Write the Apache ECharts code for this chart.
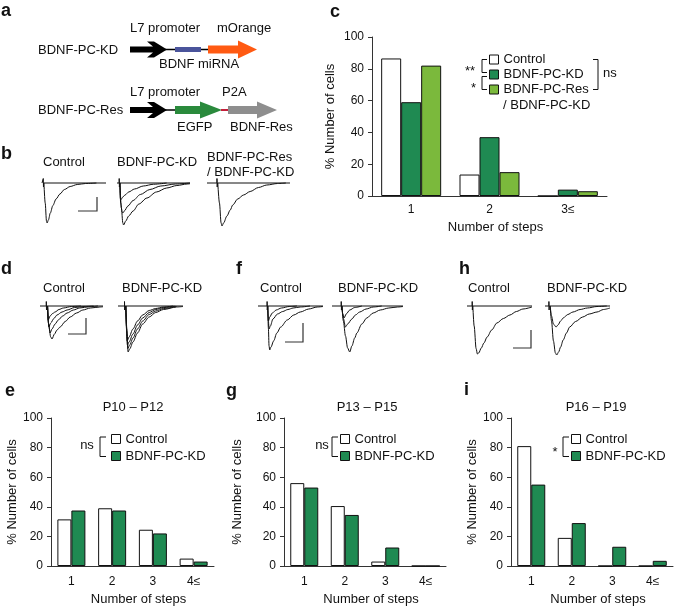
<!DOCTYPE html>
<html><head><meta charset="utf-8">
<script src="https://cdn.jsdelivr.net/npm/echarts@6/dist/echarts.min.js"></script>
<style>html,body{margin:0;padding:0;background:#fff}#main{width:675px;height:608px}</style>
</head><body><div id="main"></div>
<script>
// ---------- DATA ----------
const yTicks = [0, 20, 40, 60, 80, 100];
// panel c
const cCategories = ['1', '2', '3≤'];
const cControl = [86.5, 13.5, 0];
const cKD = [59, 37, 4];
const cRes = [82, 15, 3];
// panels e, g, i
const stepCategories = ['1', '2', '3', '4≤'];
const eControl = [31.5, 39, 24.5, 5];
const eKD = [37.5, 37.5, 22, 3];
const gControl = [56, 40.5, 3, 0];
const gKD = [53, 34.5, 12.5, 0];
const iControl = [81, 19, 0, 0];
const iKD = [55, 29, 13, 3.5];

// traces (time 0-100, current in arbitrary units, 0 = baseline)
const stimB_Control = [[0,0],[2,0],[2,9],[2.3,-8],[2.6,0],[100,0]];
const tracesB_Control = [
  [[3,0],[5,-40],[7,-76],[8,-80],[10,-74],[13,-60],[17,-45],[22,-32],[28,-22],[35,-13],[44,-7],[55,-3],[68,-1],[85,0]]
];
const stimB_KD = [[0,0],[3,0],[3,9],[3.3,-8],[3.6,0],[100,0]];
const tracesB_KD = [
  [[4,0],[4.5,-30],[5,-34],[8,-28],[11,-24],[16,-18],[24,-12],[36,-6],[50,-2.5],[68,0]],
  [[4,0],[5,-40],[7,-58],[8,-60],[10,-56],[15,-46],[22,-35],[32,-23],[45,-13],[60,-6],[80,-2],[100,0]],
  [[4,0],[6,-50],[8,-80],[9,-84],[12,-76],[16,-66],[22,-56],[30,-42],[41,-30],[54,-18],[68,-10],[82,-5],[96,-2],[100,-1.5]]
];
const stimB_Res = [[0,0],[12,0],[12,9],[12.3,-8],[12.6,0],[100,0]];
const tracesB_Res = [
  [[13,0],[15,-40],[17,-80],[18,-86],[20,-80],[24,-66],[28,-54],[31,-44],[37,-32],[44,-24],[52,-17],[62,-9],[72,-4],[85,-1],[95,0]]
];
const stimD_Control = [[0,0],[10,0],[10,9],[10.3,-8],[10.6,0],[100,0]];
const tracesD_Control = [
  [[12,0],[12.5,-20],[13,-28],[16,-20],[20,-15],[24,-12],[30,-7],[37,-4],[50,-1],[65,0]],
  [[12,0],[13,-30],[14,-42],[17,-34],[22,-25],[27,-18],[35,-12],[43,-8],[55,-3],[70,-1],[85,0]],
  [[12,0],[13.5,-35],[16,-54],[19,-46],[24,-36],[29,-28],[36,-20],[43,-14],[53,-8],[63,-4],[78,-1.5],[92,0]],
  [[12,0],[14,-40],[17,-62],[19,-66],[23,-56],[27,-48],[32,-42],[40,-31],[48,-22],[58,-14],[68,-8],[80,-4],[95,-2],[100,-1.5]]
];
const stimD_KD = [[0,0],[10,0],[10,9],[10.3,-8],[10.6,0],[100,0]];
const tracesD_KD = [
  [[12,0],[13,-40],[14,-70],[17,-62],[23,-46],[30,-30],[38,-18],[48,-9],[58,-5],[70,-2],[85,0]],
  [[12,0],[13,-45],[14.5,-78],[17,-72],[23,-56],[30,-38],[38,-24],[48,-13],[58,-7],[70,-3],[88,-0.5]],
  [[12,0],[13.5,-50],[15,-85],[18,-78],[23,-64],[30,-46],[38,-30],[48,-17],[58,-10],[70,-5],[90,-1]],
  [[12,0],[14,-55],[15.5,-92],[18,-86],[23,-72],[30,-54],[38,-36],[48,-22],[58,-13],[70,-7],[90,-2],[100,-1]]
];
const stimF_Control = [[0,0],[14,0],[14,9],[14.3,-8],[14.6,0],[100,0]];
const tracesF_Control = [
  [[15,0],[15.5,-20],[16,-30],[18,-22],[22,-14],[28,-8],[36,-4],[48,-1],[60,0]],
  [[15,0],[16,-30],[17,-46],[19,-40],[23,-26],[30,-16],[38,-11],[46,-7],[54,-4],[65,-2],[80,0]],
  [[15,0],[16,-45],[17,-80],[18,-88],[20,-82],[24,-70],[29,-54],[35,-42],[45,-28],[55,-18],[65,-12],[78,-6],[91,-2],[100,-1]]
];
const stimF_KD = [[0,0],[13,0],[13,9],[13.3,-8],[13.6,0],[100,0]];
const tracesF_KD = [
  [[14,0],[15,-15],[17,-24],[20,-16],[25,-8],[32,-3],[42,0]],
  [[14,0],[16,-25],[19,-42],[22,-36],[28,-26],[33,-18],[39,-12],[48,-6],[58,-2],[70,0]],
  [[14,0],[16,-30],[19,-60],[22,-84],[25,-92],[28,-80],[32,-64],[35,-54],[42,-36],[49,-24],[58,-14],[68,-8],[80,-4],[92,-2],[100,-1]]
];
const stimH_Control = [[0,0],[8,0],[8,9],[8.3,-8],[8.6,0],[100,0]];
const tracesH_Control = [
  [[9,0],[11,-40],[14,-85],[16,-96],[18,-94],[22,-84],[26,-74],[31,-62],[38,-48],[46,-34],[56,-25],[66,-18],[76,-11],[86,-6],[100,-2]]
];
const stimH_KD = [[0,0],[6,0],[6,9],[6.3,-8],[6.6,0],[100,0]];
const tracesH_KD = [
  [[8,0],[10,-20],[13,-36],[17,-42],[20,-38],[24,-30],[28,-24],[35,-17],[43,-12],[54,-7],[65,-4],[80,-1],[95,0]],
  [[8,0],[10,-30],[13,-70],[16,-94],[18,-98],[21,-92],[24,-82],[28,-68],[33,-54],[38,-42],[47,-31],[58,-22],[68,-16],[80,-12],[90,-7],[100,-4]]
];

// ---------- STYLE / LAYOUT ----------
const FONT = '"Liberation Sans", Arial, Helvetica, sans-serif';
const GREEN = '#1f8a52', LGREEN = '#7bb93c', AX = '#333', TXT = '#111';
const grids = [], xAxes = [], yAxes = [], series = [], legends = [], graphics = [];

function addBarPanel(p) {
  const gi = grids.length;
  grids.push(p.grid);
  xAxes.push({
    type: 'category', gridIndex: gi, data: p.cats,
    axisLine: { lineStyle: { color: AX, width: 1 } },
    axisTick: { alignWithLabel: true, length: 4, lineStyle: { color: AX } },
    axisLabel: { color: TXT, fontSize: 12, fontFamily: FONT, margin: p.labMargin },
    name: 'Number of steps', nameLocation: 'middle', nameGap: p.xNameGap,
    nameTextStyle: { color: TXT, fontSize: 13, fontFamily: FONT, padding: [0, 0, 0, 12] }
  });
  yAxes.push({
    type: 'value', gridIndex: gi, min: yTicks[0], max: yTicks[yTicks.length - 1],
    interval: yTicks[1] - yTicks[0],
    axisLine: { show: true, lineStyle: { color: AX, width: 1 } },
    axisTick: { show: true, length: 4, lineStyle: { color: AX } },
    splitLine: { show: false },
    axisLabel: { color: TXT, fontSize: 12, fontFamily: FONT, margin: 8 },
    name: '% Number of cells', nameLocation: 'middle', nameGap: p.yNameGap,
    nameTextStyle: { color: TXT, fontSize: 13, fontFamily: FONT }
  });
  p.series.forEach(([name, data, color]) => series.push({
    type: 'bar', name, data, xAxisIndex: gi, yAxisIndex: gi,
    barWidth: p.barWidth, barGap: '0%',
    itemStyle: { color, borderColor: '#111', borderWidth: 1 }
  }));
  legends.push({
    orient: 'vertical', left: p.legend.left, top: p.legend.top, padding: 0,
    itemWidth: 9, itemHeight: 9, itemGap: 0, icon: 'rect', selectedMode: false,
    textStyle: { color: TXT, fontSize: 13, fontFamily: FONT, lineHeight: p.legend.lh },
    formatter: n => n.split(' / ')[0],
    data: p.series.map(([name, , color]) => ({ name, itemStyle: { color, borderColor: '#111', borderWidth: 1 } }))
  });
}

addBarPanel({ grid: { left: 372, top: 37, width: 235, height: 159 }, cats: cCategories, barWidth: 20,
  labMargin: 8, xNameGap: 25, yNameGap: 35,
  legend: { left: 489, top: 52, lh: 15 },
  series: [['Control', cControl, '#fff'], ['BDNF-PC-KD', cKD, GREEN], ['BDNF-PC-Res / BDNF-PC-KD', cRes, LGREEN]] });
addBarPanel({ grid: { left: 51, top: 418, width: 163, height: 148 }, cats: stepCategories, barWidth: 14,
  labMargin: 10, xNameGap: 27, yNameGap: 32,
  legend: { left: 111, top: 430.5, lh: 17 },
  series: [['Control', eControl, '#fff'], ['BDNF-PC-KD', eKD, GREEN]] });
addBarPanel({ grid: { left: 284, top: 418, width: 162, height: 148 }, cats: stepCategories, barWidth: 14,
  labMargin: 10, xNameGap: 27, yNameGap: 40,
  legend: { left: 340, top: 430.5, lh: 17 },
  series: [['Control', gControl, '#fff'], ['BDNF-PC-KD', gKD, GREEN]] });
addBarPanel({ grid: { left: 511, top: 418, width: 162, height: 148 }, cats: stepCategories, barWidth: 14,
  labMargin: 10, xNameGap: 27, yNameGap: 29,
  legend: { left: 571, top: 430.5, lh: 17 },
  series: [['Control', iControl, '#fff'], ['BDNF-PC-KD', iKD, GREEN]] });

function addTraceGroup(x0, w, base, stim, traces) {
  const gi = grids.length;
  grids.push({ left: x0, top: base - 5, width: w, height: 60 });
  xAxes.push({ type: 'value', gridIndex: gi, min: 0, max: 100, show: false });
  yAxes.push({ type: 'value', gridIndex: gi, min: -110, max: 10, show: false });
  const ls = { color: '#111', width: 1 };
  series.push({ type: 'line', xAxisIndex: gi, yAxisIndex: gi, data: stim, symbol: 'none', lineStyle: ls, silent: true, clip: false });
  traces.forEach(t => series.push({ type: 'line', xAxisIndex: gi, yAxisIndex: gi, data: t, symbol: 'none',
    smooth: 0.3, smoothMonotone: 'x', lineStyle: ls, silent: true, clip: false }));
}
addTraceGroup(42, 64, 183, stimB_Control, tracesB_Control);
addTraceGroup(117, 73, 183, stimB_KD, tracesB_KD);
addTraceGroup(207, 83, 183, stimB_Res, tracesB_Res);
addTraceGroup(40, 63, 306, stimD_Control, tracesD_Control);
addTraceGroup(118, 65, 306, stimD_KD, tracesD_KD);
addTraceGroup(258, 65, 306, stimF_Control, tracesF_Control);
addTraceGroup(332, 71, 306, stimF_KD, tracesF_KD);
addTraceGroup(467, 65, 306, stimH_Control, tracesH_Control);
addTraceGroup(545, 65, 306, stimH_KD, tracesH_KD);

// ---------- GRAPHIC ANNOTATIONS ----------
function txt(x, y, s, opt = {}) {
  graphics.push({ type: 'text', x, y, silent: true, style: {
    text: s, font: (opt.bold ? 'bold ' : '') + (opt.size || 13) + 'px ' + FONT,
    fill: opt.fill || TXT, textAlign: opt.align || 'left', textVerticalAlign: 'middle' } });
}
function pline(points, color = '#111', w = 1) {
  graphics.push({ type: 'polyline', silent: true, shape: { points }, style: { stroke: color, lineWidth: w, fill: null } });
}
function poly(points, fill) {
  graphics.push({ type: 'polygon', silent: true, shape: { points }, style: { fill } });
}
// panel letters
[['a', 1, 11], ['b', 1, 154], ['c', 330, 12], ['d', 1, 269], ['f', 236, 269], ['h', 459, 269],
 ['e', 5, 391], ['g', 226, 391], ['i', 464, 390]].forEach(([s, x, y]) => txt(x, y, s, { bold: true, size: 18 }));

// panel a constructs
function blackArrow(dy) {
  poly([[130,46.5+dy],[153,46.5+dy],[147,41.5+dy],[154,41.5+dy],[167,49.5+dy],[154,57.5+dy],[147,57.5+dy],[153,52.5+dy],[130,52.5+dy]], '#000');
}
txt(38, 50, 'BDNF-PC-KD'); txt(130, 28, 'L7 promoter'); txt(217, 28, 'mOrange'); txt(159, 64, 'BDNF miRNA');
pline([[165,49.5],[209,49.5]], '#000', 1.5);
blackArrow(0);
graphics.push({ type: 'rect', silent: true, shape: { x: 175, y: 47, width: 26, height: 5 }, style: { fill: '#4a549b' } });
poly([[208,45.5],[238,45.5],[238,40.5],[257,49.5],[238,58.5],[238,53.5],[208,53.5]], '#ff5a12');

txt(38, 110, 'BDNF-PC-Res'); txt(130, 92, 'L7 promoter'); txt(222, 92, 'P2A'); txt(177, 127, 'EGFP'); txt(230, 127, 'BDNF-Res');
pline([[165,110],[176,110]], '#000', 1.5);
blackArrow(60.5);
poly([[175,106],[200,106],[200,101.5],[222,110],[200,118.5],[200,114],[175,114]], '#2a8a3c');
pline([[221,110],[229,110]], '#c41e3a', 2);
poly([[228,106],[257,106],[257,101.5],[277,110],[257,118.5],[257,114],[228,114]], '#8e8e8e');

// trace labels
txt(43, 162, 'Control'); txt(117, 162, 'BDNF-PC-KD'); txt(207, 157, 'BDNF-PC-Res'); txt(207, 172, '/ BDNF-PC-KD');
txt(43, 288, 'Control'); txt(122, 288, 'BDNF-PC-KD');
txt(260, 288, 'Control'); txt(338, 288, 'BDNF-PC-KD');
txt(468, 288, 'Control'); txt(547, 288, 'BDNF-PC-KD');
// scale bars
pline([[78,211],[97,211],[97,197]], '#333', 1.2);
pline([[68,334],[86,334],[86,318]], '#333', 1.2);
pline([[285,342],[303,342],[303,323]], '#333', 1.2);
pline([[513,348],[531,348],[531,330]], '#333', 1.2);

// period titles
txt(133, 407, 'P10 – P12', { align: 'center' });
txt(367, 407, 'P13 – P15', { align: 'center' });
txt(596, 407, 'P16 – P19', { align: 'center' });

// panel c legend extras & brackets
txt(503, 105, '/ BDNF-PC-KD');
pline([[487,59.5],[482,59.5],[482,72.5],[487,72.5]]);
pline([[487,76.5],[482,76.5],[482,89.5],[487,89.5]]);
txt(470, 71, '**', { align: 'center' });
txt(473.5, 88, '*', { align: 'center' });
pline([[593,59.5],[598,59.5],[598,89.5],[593,89.5]]);
txt(603, 73, 'ns');
// e, g, i brackets
pline([[106,437],[100,437],[100,456.5],[106,456.5]]);
txt(87, 445, 'ns', { align: 'center' });
pline([[338,437],[332,437],[332,456.5],[338,456.5]]);
txt(322, 445, 'ns', { align: 'center' });
pline([[569,437],[563,437],[563,456.5],[569,456.5]]);
txt(555, 452, '*', { align: 'center' });

const chart = echarts.init(document.getElementById('main'), null, { renderer: 'canvas' });
chart.setOption({
  animation: false,
  backgroundColor: '#fff',
  textStyle: { fontFamily: FONT },
  grid: grids, xAxis: xAxes, yAxis: yAxes, legend: legends, series, graphic: graphics
});
</script></body></html>
